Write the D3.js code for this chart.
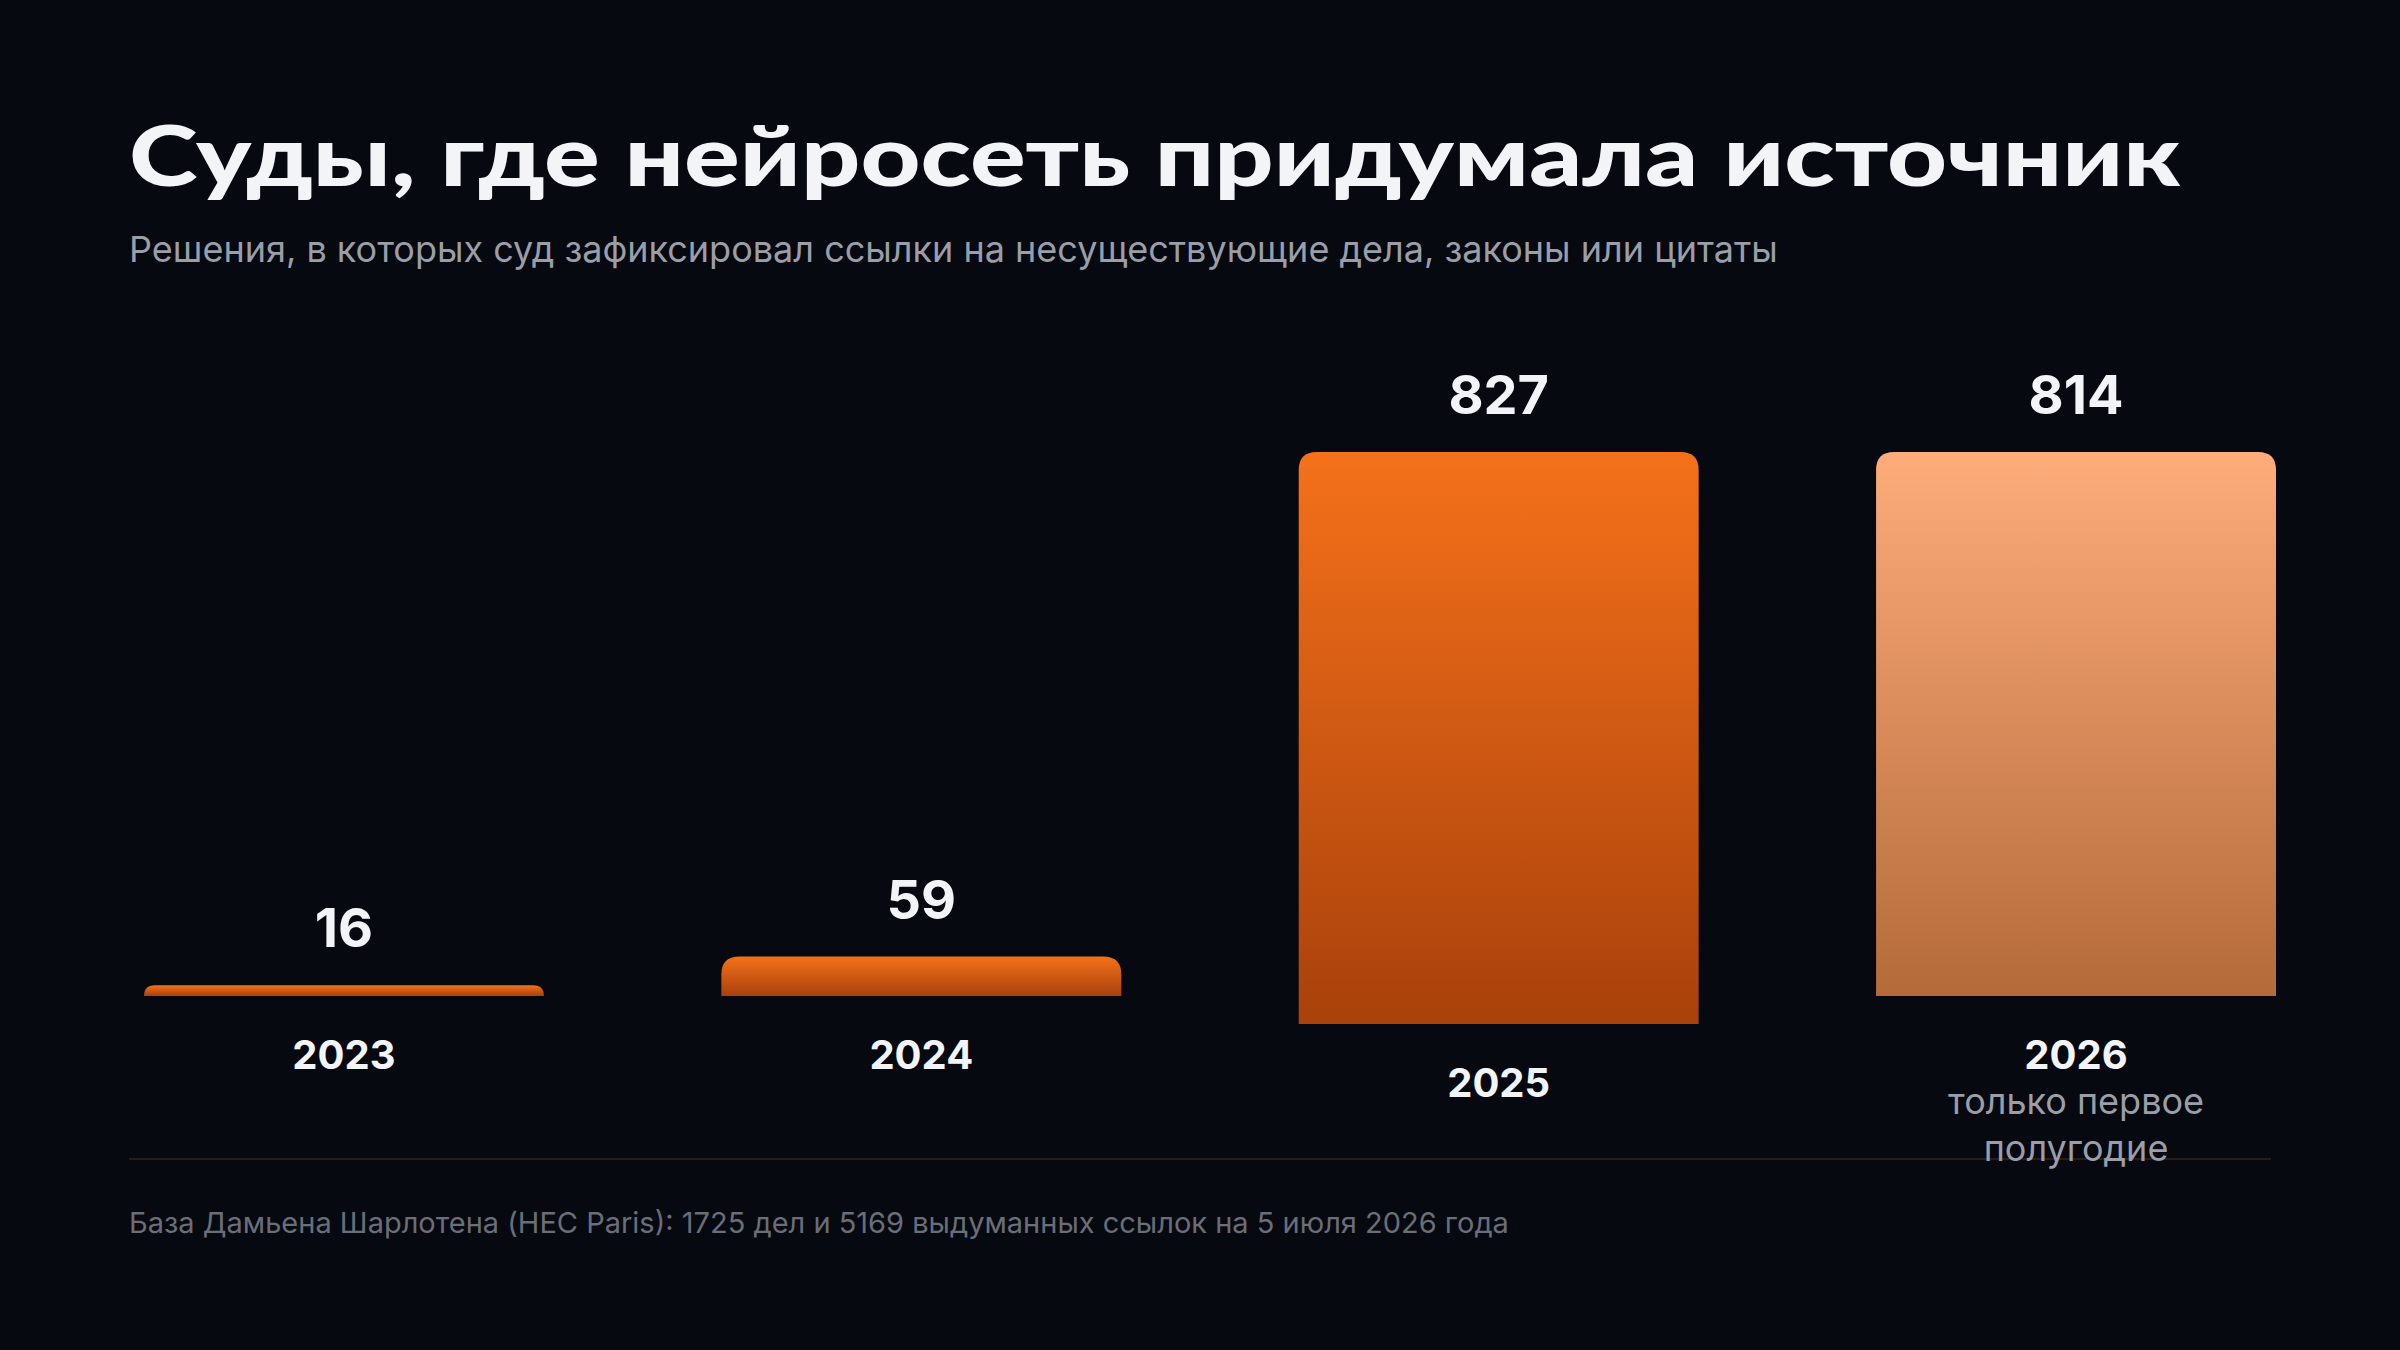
<!DOCTYPE html><html><head><meta charset="utf-8"><script src="https://cdn.jsdelivr.net/npm/d3@7"></script>
<style>body{margin:0;background:#060910}</style></head><body><svg id="c" width="2400" height="1350"></svg>
<script>
const years=["2023","2024","2025","2026"];
const values=[16,59,827,814];
const notes=["","","","только первое полугодие"];
const title="Суды, где нейросеть придумала источник";
const subtitle="Решения, в которых суд зафиксировал ссылки на несуществующие дела, законы или цитаты";
const source="База Дамьена Шарлотена (HEC Paris): 1725 дел и 5169 выдуманных ссылок на 5 июля 2026 года";

const svg=d3.select("#c");
svg.append("rect").attr("width",2400).attr("height",1350).attr("fill","#060910");
const defs=svg.append("defs");
[["g0","#f5711a","#a9410b"],["g1","#fdac7a","#b56a3a"]].forEach(([id,a,b])=>{
 const g=defs.append("linearGradient").attr("id",id).attr("x1",0).attr("y1",0).attr("x2",0).attr("y2",1);
 g.append("stop").attr("offset",0).attr("stop-color",a);g.append("stop").attr("offset",1).attr("stop-color",b);});
svg.append("text").attr("x",129).attr("y",186).attr("textLength",2052).attr("lengthAdjust","spacingAndGlyphs")
 .attr("font-family","Lato").attr("font-weight",900).attr("font-size",84).attr("fill","#f3f4f8").text(title);
svg.append("text").attr("x",129).attr("y",262).attr("font-family","Inter").attr("font-size",36).attr("fill","#9a9ea8").text(subtitle);

const x=d3.scaleBand().domain(years).range([129,2271]).paddingInner(0.29).paddingOuter(0.0);
const y=d3.scaleLinear().domain([0,814]).range([996,452]);
const r=18;
function barPath(x0,w,top,bot){const rr=Math.min(r,bot-top);
 return `M${x0},${bot}V${top+rr}Q${x0},${top} ${x0+rr},${top}H${x0+w-rr}Q${x0+w},${top} ${x0+w},${top+rr}V${bot}Z`;}
years.forEach((yr,i)=>{
 const x0=x(yr)+15,w=x.bandwidth()-10;
 const bot=i===2?1024:996, top=Math.max(452,y(values[i]));
 svg.append("path").attr("d",barPath(x0,w,top,bot)).attr("fill",i===3?"url(#g1)":"url(#g0)");
 const cx=x0+w/2;
 svg.append("text").attr("x",cx).attr("y",top-38).attr("text-anchor","middle").attr("font-family","Inter").attr("font-weight",700)
  .attr("font-size",54).attr("fill","#f3f4f8").text(values[i]);
 svg.append("text").attr("x",cx).attr("y",bot+73).attr("text-anchor","middle").attr("font-family","Inter").attr("font-weight",700)
  .attr("font-size",40).attr("fill","#f3f4f8").text(yr);
 if(notes[i]){const ws=notes[i].split(" ");
  [ws.slice(0,2).join(" "),ws.slice(2).join(" ")].forEach((t,k)=>svg.append("text").attr("x",cx).attr("y",bot+118+k*47)
   .attr("text-anchor","middle").attr("font-family","Inter").attr("font-size",36).attr("fill","#9a9ea8").text(t));}
});
svg.insert("line","path").attr("x1",129).attr("x2",2271).attr("y1",1159).attr("y2",1159).attr("stroke","#2a1b14").attr("stroke-width",2);
svg.append("text").attr("x",129).attr("y",1233).attr("font-family","Inter").attr("font-size",29).attr("fill","#6a6e78").text(source);
</script></body></html>
